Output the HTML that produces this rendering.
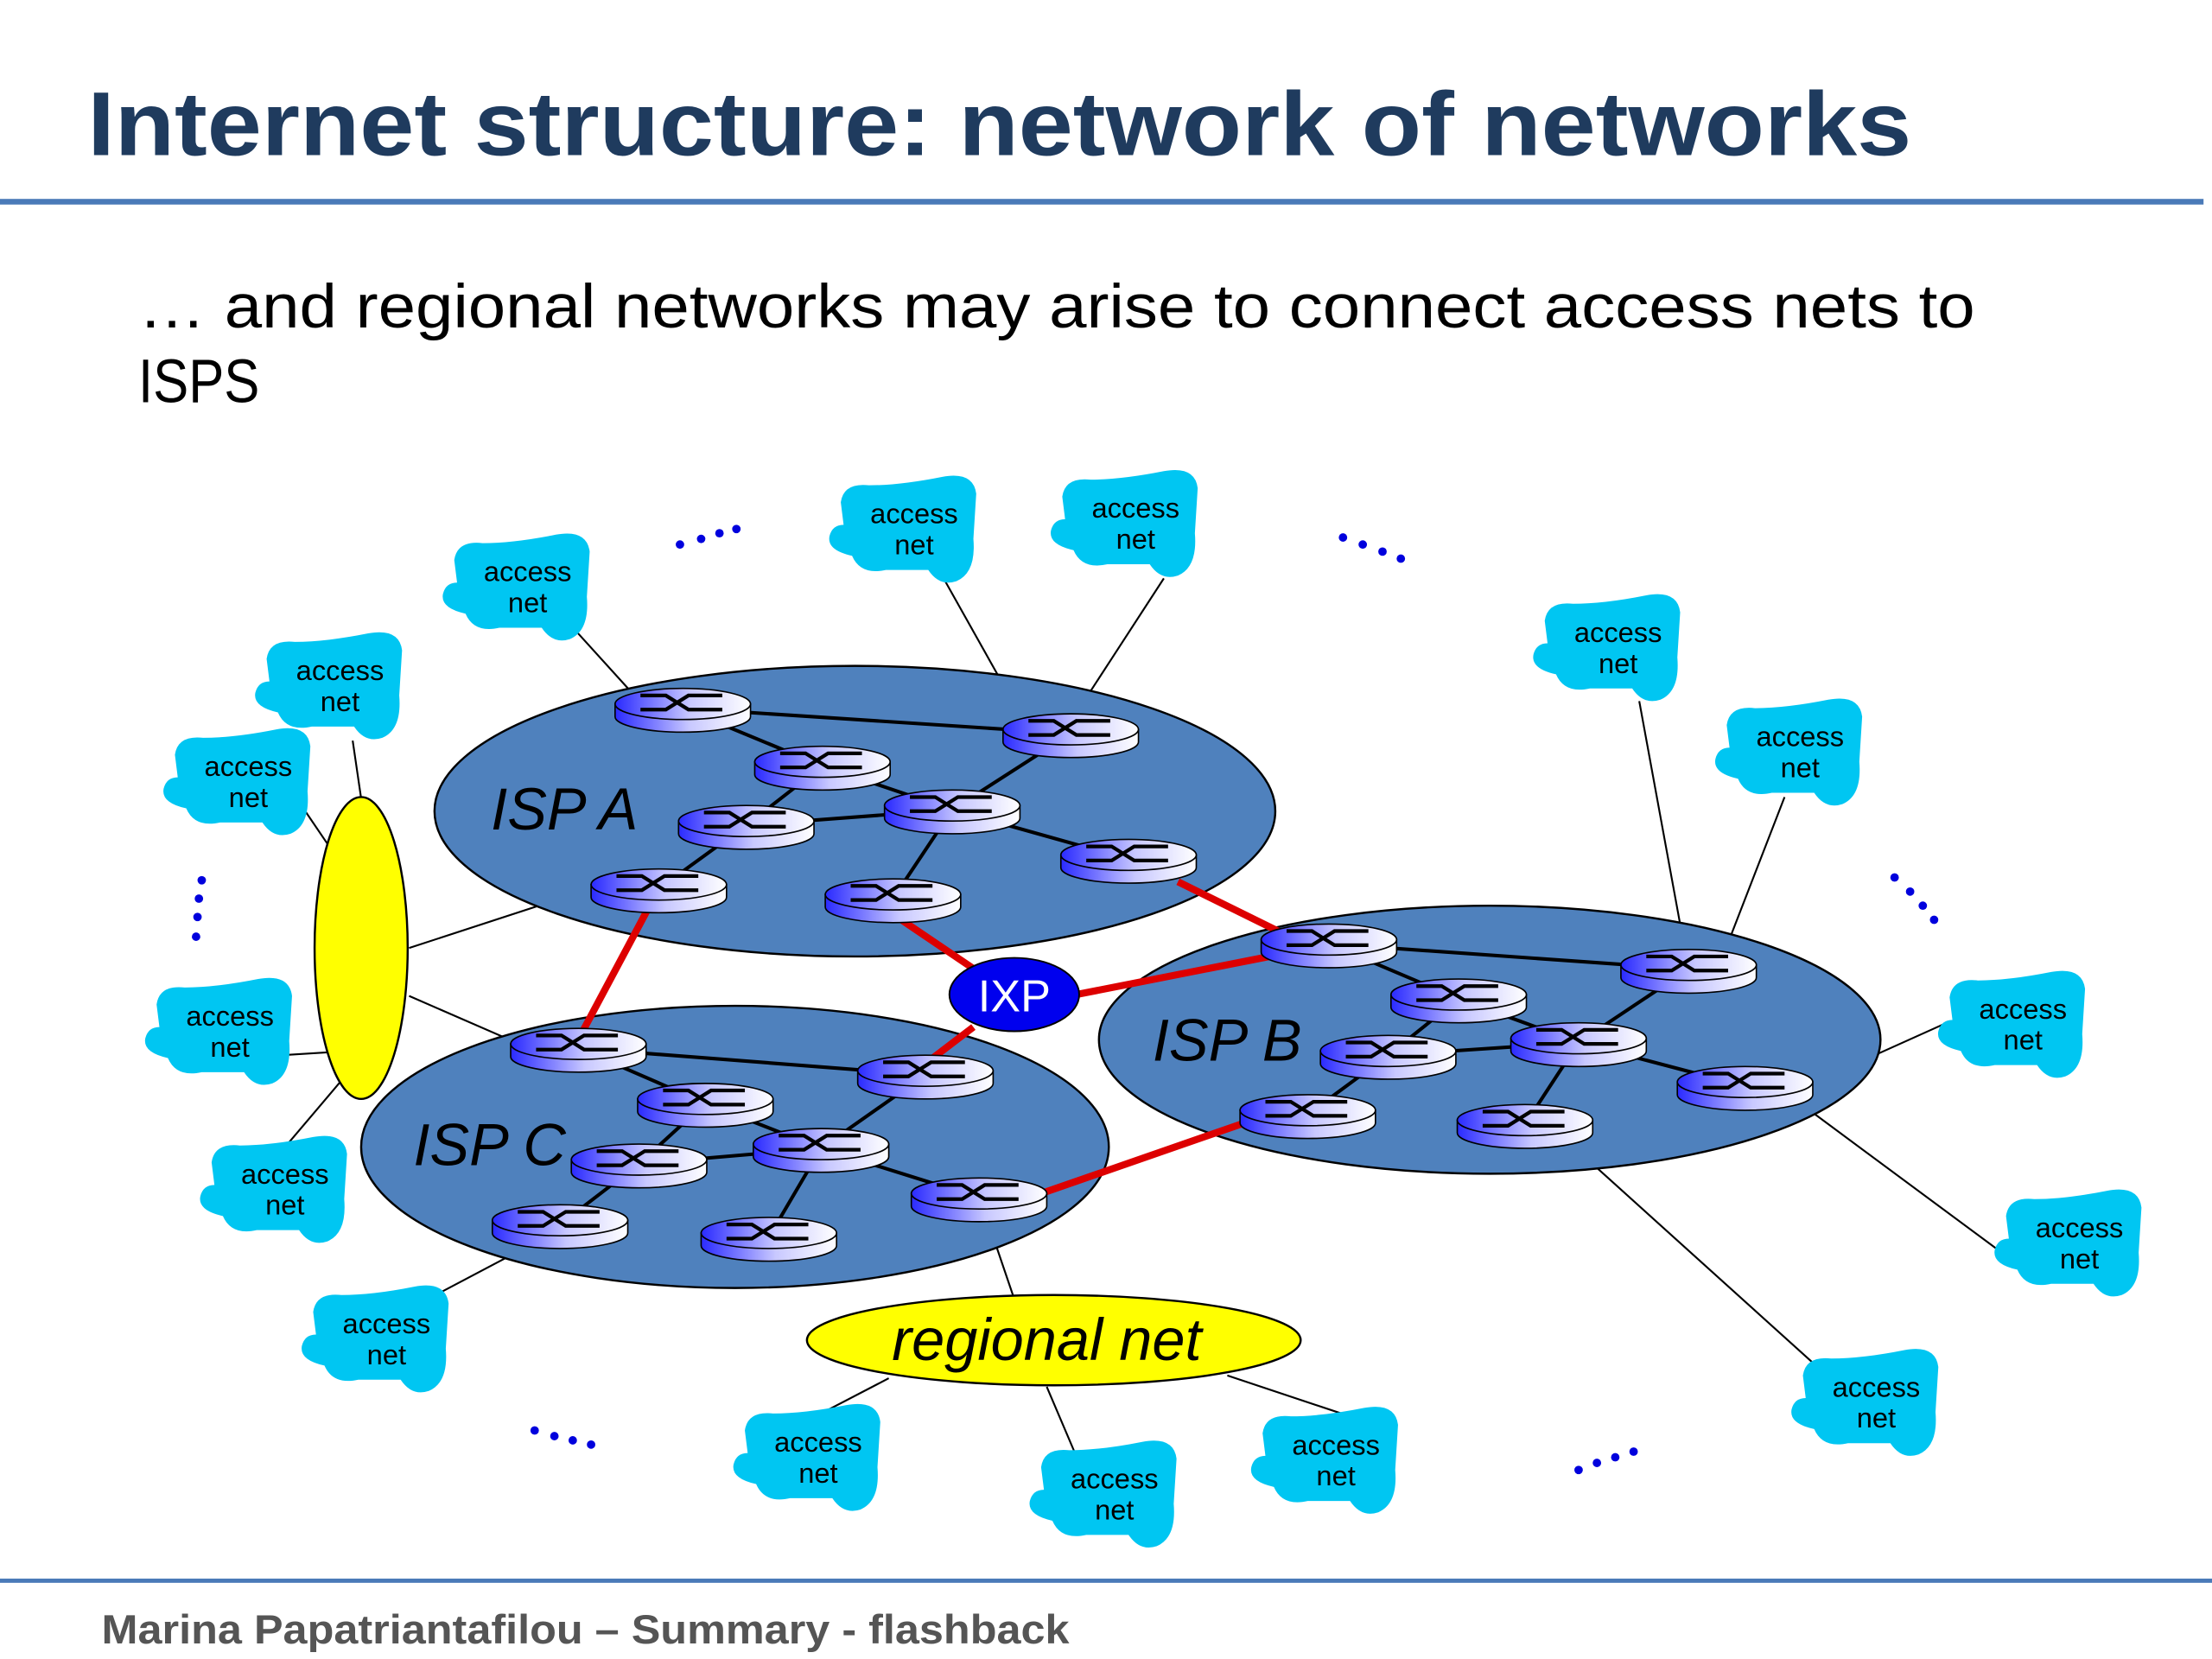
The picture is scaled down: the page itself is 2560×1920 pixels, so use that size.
<!DOCTYPE html>
<html><head><meta charset="utf-8"><style>
html,body{margin:0;padding:0;background:#fff;}
svg{display:block;}
</style></head><body>
<svg width="2560" height="1920" viewBox="0 0 1568 1176" xmlns="http://www.w3.org/2000/svg">
<defs>
<linearGradient id="rg" x1="0" x2="1" y1="0" y2="0">
<stop offset="0" stop-color="#2a2aff"/><stop offset="0.55" stop-color="#c8c8ff"/><stop offset="1" stop-color="#ffffff"/>
</linearGradient>
<g id="router">
<path d="M-48,-3 L-48,6 A48,11 0 0 0 48,6 L48,-3 Z" fill="url(#rg)" stroke="#000" stroke-width="1"/>
<ellipse cx="0" cy="-3" rx="48" ry="11" fill="url(#rg)" stroke="#000" stroke-width="1"/>
<path d="M-30,-9 L-12,-9 L4,1 L28,1 M-30,1 L-12,1 L4,-9 L28,-9" stroke="#000" stroke-width="2.6" fill="none"/>
</g>
<g id="cloud">
<path d="M-52,-18 Q-50,-32 -32,-30 Q-10,-30 20,-36 Q42,-40 44,-24 L42,8 Q44,32 30,38 Q18,42 10,30 L-20,30 Q-38,34 -44,20 Q-62,16 -60,6 Q-58,-2 -50,-2 Z" fill="#00c6f2"/>
</g>
</defs>

<text x="62" y="110" font-family="Liberation Sans, sans-serif" font-weight="bold" font-size="64" fill="#1f3b5e" textLength="1293" lengthAdjust="spacingAndGlyphs">Internet structure: network of networks</text>
<rect x="0" y="141" width="1562" height="4" fill="#4a7ab8"/>
<text x="98" y="232" font-family="Liberation Sans, sans-serif" font-size="44" fill="#000" textLength="1302" lengthAdjust="spacingAndGlyphs">… and regional networks may arise to connect access nets to</text>
<text x="98" y="285" font-family="Liberation Sans, sans-serif" font-size="44" fill="#000" textLength="86" lengthAdjust="spacingAndGlyphs">ISPS</text>

<g stroke="#000" stroke-width="1.3" fill="none">
<line x1="408" y1="447" x2="447" y2="490"/>
<line x1="670" y1="412" x2="725" y2="510"/>
<line x1="825" y1="410" x2="760" y2="510"/>
<line x1="250" y1="525" x2="256" y2="566"/>
<line x1="213" y1="570" x2="232" y2="598"/>
<line x1="290" y1="672" x2="425" y2="628"/>
<line x1="290" y1="706" x2="375" y2="743"/>
<line x1="200" y1="748" x2="232" y2="746"/>
<line x1="203" y1="812" x2="242" y2="766"/>
<line x1="305" y1="920" x2="375" y2="883"/>
<line x1="718" y1="918" x2="700" y2="865"/>
<line x1="630" y1="977" x2="580" y2="1003"/>
<line x1="742" y1="983" x2="762" y2="1030"/>
<line x1="870" y1="975" x2="960" y2="1005"/>
<line x1="1162" y1="497" x2="1195" y2="677"/>
<line x1="1265" y1="565" x2="1222" y2="676"/>
<line x1="1380" y1="725" x2="1280" y2="770"/>
<line x1="1415" y1="885" x2="1280" y2="785"/>
<line x1="1295" y1="975" x2="1110" y2="808"/>
</g>

<ellipse cx="606" cy="575" rx="298" ry="103" fill="#4f81bd" stroke="#000" stroke-width="1.5"/>
<ellipse cx="1056" cy="737" rx="277" ry="95" fill="#4f81bd" stroke="#000" stroke-width="1.5"/>
<ellipse cx="521" cy="813" rx="265" ry="100" fill="#4f81bd" stroke="#000" stroke-width="1.5"/>
<ellipse cx="256" cy="672" rx="33" ry="107" fill="#ffff00" stroke="#000" stroke-width="1.5"/>

<g font-family="Liberation Sans, sans-serif" font-style="italic" font-size="42" fill="#000">
<text x="348" y="588">ISP A</text>
<text x="817" y="752">ISP B</text>
<text x="293" y="826">ISP C</text>
</g>

<g stroke="#000" stroke-width="2.5">
<line x1="484" y1="502" x2="759" y2="520"/><line x1="484" y1="502" x2="583" y2="543"/>
<line x1="583" y1="543" x2="529" y2="585"/><line x1="583" y1="543" x2="675" y2="574"/>
<line x1="529" y1="585" x2="675" y2="574"/><line x1="529" y1="585" x2="467" y2="630"/>
<line x1="675" y1="574" x2="759" y2="520"/><line x1="675" y1="574" x2="800" y2="609"/>
<line x1="675" y1="574" x2="633" y2="637"/>
<line x1="942" y1="669" x2="1197" y2="687"/><line x1="942" y1="669" x2="1034" y2="708"/>
<line x1="1034" y1="708" x2="984" y2="748"/><line x1="1034" y1="708" x2="1119" y2="739"/>
<line x1="984" y1="748" x2="1119" y2="739"/><line x1="984" y1="748" x2="927" y2="790"/>
<line x1="1119" y1="739" x2="1197" y2="687"/><line x1="1119" y1="739" x2="1237" y2="770"/>
<line x1="1119" y1="739" x2="1081" y2="797"/>
<line x1="410" y1="743" x2="656" y2="762"/><line x1="410" y1="743" x2="500" y2="782"/>
<line x1="500" y1="782" x2="453" y2="825"/><line x1="500" y1="782" x2="582" y2="814"/>
<line x1="453" y1="825" x2="582" y2="814"/><line x1="453" y1="825" x2="397" y2="868"/>
<line x1="582" y1="814" x2="656" y2="762"/><line x1="582" y1="814" x2="694" y2="849"/>
<line x1="582" y1="814" x2="545" y2="877"/>
</g>

<g stroke="#dd0000" stroke-width="5">
<line x1="460" y1="643" x2="412" y2="733"/>
<line x1="633" y1="648" x2="695" y2="690"/>
<line x1="835" y1="625" x2="910" y2="662"/>
<line x1="763" y1="705" x2="900" y2="678"/>
<line x1="690" y1="728" x2="656" y2="754"/>
<line x1="738" y1="846" x2="885" y2="795"/>
</g>

<g>
<use href="#router" x="484" y="502"/><use href="#router" x="759" y="520"/>
<use href="#router" x="583" y="543"/><use href="#router" x="675" y="574"/>
<use href="#router" x="529" y="585"/><use href="#router" x="800" y="609"/>
<use href="#router" x="467" y="630"/><use href="#router" x="633" y="637"/>
<use href="#router" x="942" y="669"/><use href="#router" x="1197" y="687"/>
<use href="#router" x="1034" y="708"/><use href="#router" x="1119" y="739"/>
<use href="#router" x="984" y="748"/><use href="#router" x="1237" y="770"/>
<use href="#router" x="927" y="790"/><use href="#router" x="1081" y="797"/>
<use href="#router" x="410" y="743"/><use href="#router" x="656" y="762"/>
<use href="#router" x="500" y="782"/><use href="#router" x="582" y="814"/>
<use href="#router" x="453" y="825"/><use href="#router" x="397" y="868"/>
<use href="#router" x="694" y="849"/><use href="#router" x="545" y="877"/>
</g>

<ellipse cx="719" cy="705" rx="46" ry="26" fill="#0000ee" stroke="#000" stroke-width="1.2"/>
<text x="719" y="717" text-anchor="middle" font-family="Liberation Sans, sans-serif" font-size="32" fill="#fff">IXP</text>

<ellipse cx="747" cy="950" rx="175" ry="32" fill="#ffff00" stroke="#000" stroke-width="1.5"/>
<text x="742" y="964" text-anchor="middle" font-family="Liberation Sans, sans-serif" font-style="italic" font-size="42" fill="#000">regional net</text>

<g font-family="Liberation Sans, sans-serif" font-size="20" fill="#000" text-anchor="middle">
<g transform="translate(374,415)"><use href="#cloud"/><text y="-3">access</text><text y="19">net</text></g>
<g transform="translate(648,374)"><use href="#cloud"/><text y="-3">access</text><text y="19">net</text></g>
<g transform="translate(805,370)"><use href="#cloud"/><text y="-3">access</text><text y="19">net</text></g>
<g transform="translate(241,485)"><use href="#cloud"/><text y="-3">access</text><text y="19">net</text></g>
<g transform="translate(176,553)"><use href="#cloud"/><text y="-3">access</text><text y="19">net</text></g>
<g transform="translate(163,730)"><use href="#cloud"/><text y="-3">access</text><text y="19">net</text></g>
<g transform="translate(202,842)"><use href="#cloud"/><text y="-3">access</text><text y="19">net</text></g>
<g transform="translate(274,948)"><use href="#cloud"/><text y="-3">access</text><text y="19">net</text></g>
<g transform="translate(580,1032)"><use href="#cloud"/><text y="-3">access</text><text y="19">net</text></g>
<g transform="translate(790,1058)"><use href="#cloud"/><text y="-3">access</text><text y="19">net</text></g>
<g transform="translate(947,1034)"><use href="#cloud"/><text y="-3">access</text><text y="19">net</text></g>
<g transform="translate(1147,458)"><use href="#cloud"/><text y="-3">access</text><text y="19">net</text></g>
<g transform="translate(1276,532)"><use href="#cloud"/><text y="-3">access</text><text y="19">net</text></g>
<g transform="translate(1434,725)"><use href="#cloud"/><text y="-3">access</text><text y="19">net</text></g>
<g transform="translate(1474,880)"><use href="#cloud"/><text y="-3">access</text><text y="19">net</text></g>
<g transform="translate(1330,993)"><use href="#cloud"/><text y="-3">access</text><text y="19">net</text></g>
</g>

<g fill="#0000dd">
<circle cx="482" cy="386" r="3"/><circle cx="497" cy="382" r="3"/><circle cx="510" cy="378" r="3"/><circle cx="522" cy="375" r="3"/>
<circle cx="952" cy="381" r="3"/><circle cx="966" cy="386" r="3"/><circle cx="980" cy="391" r="3"/><circle cx="993" cy="396" r="3"/>
<circle cx="143" cy="624" r="3"/><circle cx="141" cy="637" r="3"/><circle cx="140" cy="650" r="3"/><circle cx="139" cy="664" r="3"/>
<circle cx="1343" cy="622" r="3"/><circle cx="1354" cy="632" r="3"/><circle cx="1363" cy="642" r="3"/><circle cx="1371" cy="652" r="3"/>
<circle cx="379" cy="1014" r="3"/><circle cx="393" cy="1018" r="3"/><circle cx="406" cy="1021" r="3"/><circle cx="419" cy="1024" r="3"/>
<circle cx="1119" cy="1042" r="3"/><circle cx="1132" cy="1037" r="3"/><circle cx="1145" cy="1033" r="3"/><circle cx="1158" cy="1029" r="3"/>
</g>

<rect x="0" y="1119" width="1568" height="3" fill="#4a7ab8"/>
<text x="72" y="1165" font-family="Liberation Sans, sans-serif" font-weight="bold" font-size="29" fill="#555" textLength="686" lengthAdjust="spacingAndGlyphs">Marina Papatriantafilou –  Summary - flashback</text>
</svg>
</body></html>
